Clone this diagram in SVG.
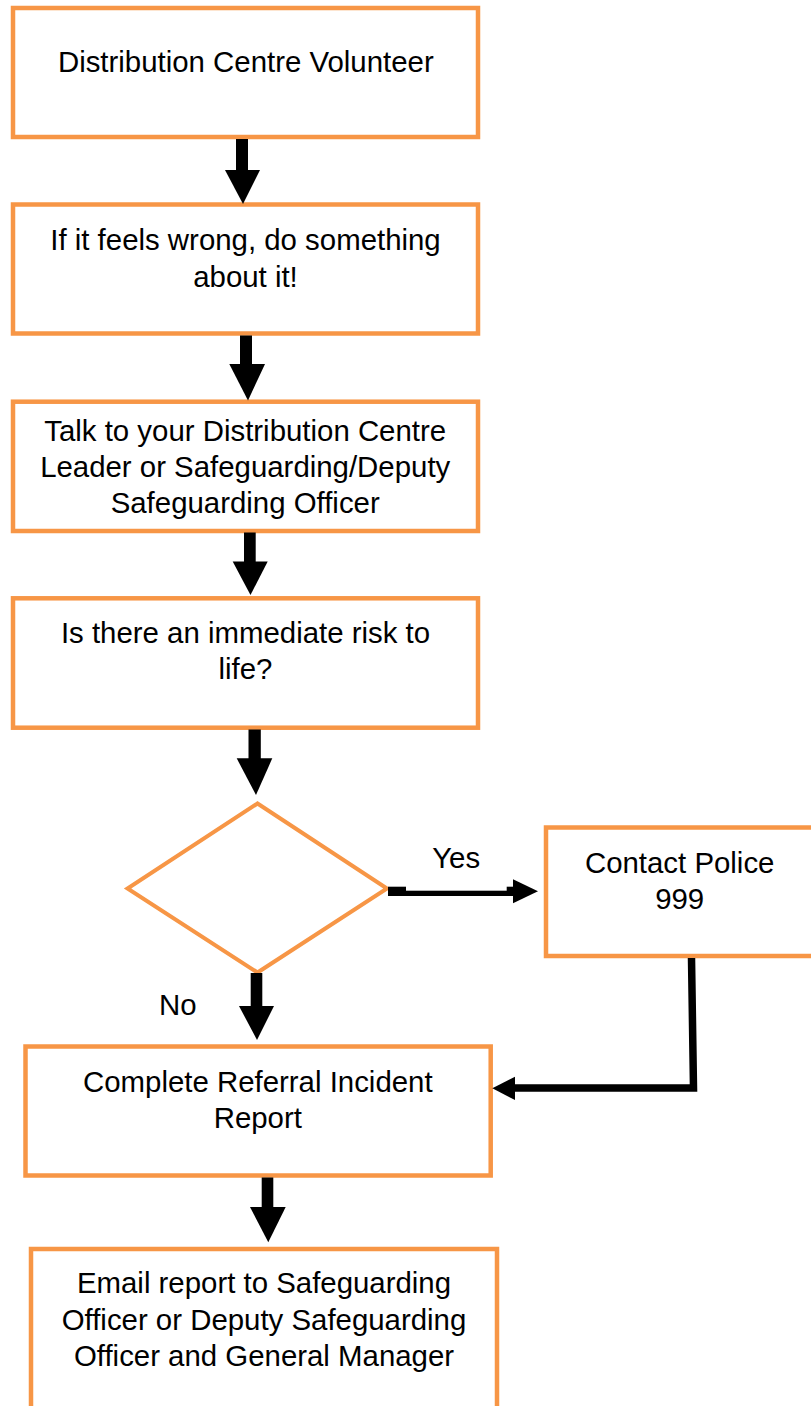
<svg xmlns="http://www.w3.org/2000/svg" width="811" height="1406" viewBox="0 0 811 1406">
<style>
.box{fill:#fff;stroke:#F79646;stroke-width:4.5}
.dia{fill:#fff;stroke:#F79646;stroke-width:4}
.t{font-family:"Liberation Sans",Arial,sans-serif;font-size:29.4px;fill:#000;text-anchor:middle}
.ar{fill:#000}
.ln{fill:none;stroke:#000;stroke-width:7.5;stroke-linejoin:miter}
</style>
<rect width="811" height="1406" fill="#fff"/>
<g id="n1">
<rect class="box" x="13" y="8" width="465" height="129"/>
<text class="t" x="245.8" y="72">Distribution Centre Volunteer</text>
</g>
<g id="n2">
<rect class="box" x="13" y="204.5" width="465" height="129"/>
<text class="t" x="245.5" y="250">If it feels wrong, do something</text>
<text class="t" x="245.5" y="286.7">about it!</text>
</g>
<g id="n3">
<rect class="box" x="13" y="401.7" width="465" height="129.3"/>
<text class="t" x="245.2" y="440.7">Talk to your Distribution Centre</text>
<text class="t" x="245.2" y="477.3">Leader or Safeguarding/Deputy</text>
<text class="t" x="245.2" y="513.3">Safeguarding Officer</text>
</g>
<g id="n4">
<rect class="box" x="13" y="598.3" width="465" height="129.4"/>
<text class="t" x="245.5" y="643.3">Is there an immediate risk to</text>
<text class="t" x="245.5" y="679.3">life?</text>
</g>
<g id="n5">
<polygon class="dia" points="257.5,803.5 387,888.5 257.5,972.5 127.5,888.5"/>
</g>
<g id="n6">
<rect class="box" x="546" y="827.5" width="270" height="128.5"/>
<text class="t" x="679.7" y="873.3">Contact Police</text>
<text class="t" x="679.7" y="909.3">999</text>
</g>
<g id="n7">
<rect class="box" x="25.5" y="1046.5" width="465.2" height="129"/>
<text class="t" x="257.8" y="1091.7">Complete Referral Incident</text>
<text class="t" x="257.8" y="1127.7">Report</text>
</g>
<g id="n8">
<rect class="box" x="31" y="1249" width="466" height="200"/>
<text class="t" x="264" y="1293.3">Email report to Safeguarding</text>
<text class="t" x="264" y="1330">Officer or Deputy Safeguarding</text>
<text class="t" x="264" y="1366">Officer and General Manager</text>
</g>
<g id="connectors">
<rect class="ar" x="236" y="139" width="12" height="32"/>
<polygon class="ar" points="225,170 260,170 243,204"/>
<rect class="ar" x="240" y="335.5" width="12" height="29.5"/>
<polygon class="ar" points="229.3,364 265,364 248,400.5"/>
<rect class="ar" x="244" y="532.5" width="11.7" height="29.5"/>
<polygon class="ar" points="232.7,561.5 267.7,561.5 250.5,595"/>
<rect class="ar" x="248.5" y="729.5" width="12.3" height="29.5"/>
<polygon class="ar" points="236.7,758.3 272.3,758.3 256,795"/>
<rect class="ar" x="250.7" y="973" width="11.6" height="33.5"/>
<polygon class="ar" points="239,1006 274,1006 257,1040"/>
<rect class="ar" x="261.7" y="1177.5" width="11.6" height="30"/>
<polygon class="ar" points="250,1207 285.7,1207 268.3,1242.3"/>
<rect class="ar" x="388" y="886.7" width="18" height="9.3"/>
<rect class="ar" x="405" y="890.7" width="103" height="5.3"/>
<rect class="ar" x="506.7" y="886.7" width="8" height="9.3"/>
<polygon class="ar" points="513,879.3 513,903.3 538,891.3"/>
<path class="ln" d="M691.5,958 L693.5,1088 L512,1088"/>
<polygon class="ar" points="515,1076.7 515,1100 492.3,1088.3"/>
<text class="t" x="456.2" y="868.3">Yes</text>
<text class="t" x="177.8" y="1015">No</text>
</g>
</svg>
